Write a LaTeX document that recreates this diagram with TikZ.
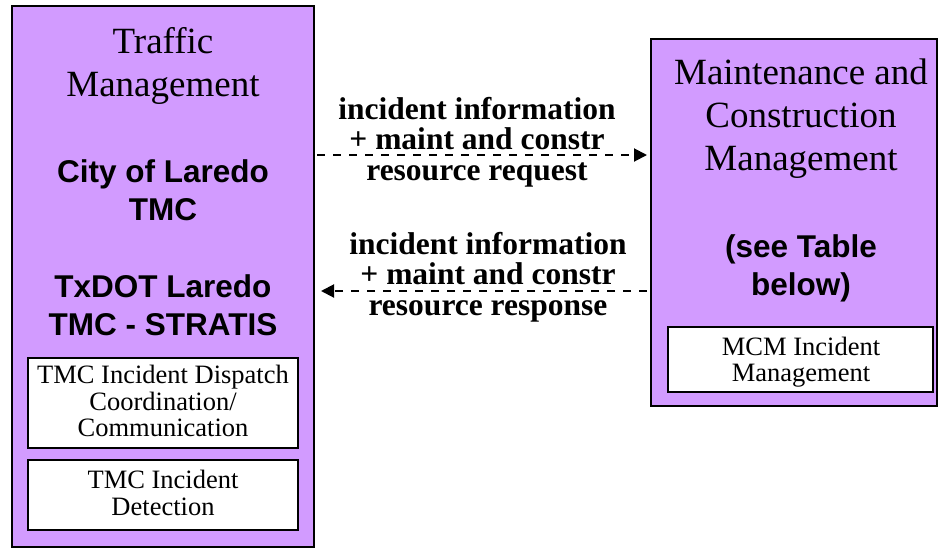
\documentclass[tikz,border=0pt]{standalone}
\usepackage{fontspec}
\setmainfont{Liberation Serif}
\newfontfamily\arialfont{Liberation Sans}
\usetikzlibrary{arrows.meta}
\definecolor{purp}{RGB}{210,155,255}
\begin{document}
\begin{tikzpicture}[x=1pt,y=-1pt,
 sysbox/.style={draw=black,line width=2pt,fill=purp,inner sep=0pt},
 subbox/.style={draw=black,line width=2pt,fill=white,inner sep=0pt},
 ttl/.style={font=\fontsize{37}{43}\selectfont,align=center,anchor=base,inner sep=0pt},
 org/.style={font=\arialfont\bfseries\fontsize{31.5}{38}\selectfont,align=center,anchor=base,inner sep=0pt},
 subtxt/.style={font=\fontsize{26.5}{26.5}\selectfont,align=center,anchor=base,inner sep=0pt},
 lbl/.style={font=\bfseries\fontsize{31.5}{30.5}\selectfont,align=center,anchor=base,inner sep=0pt},
 flow/.style={line width=2pt,dash pattern=on 8pt off 8pt,-{Triangle[length=13pt,width=13pt]}}]
\useasboundingbox (0,0) rectangle (938,550);
% left system
\node[sysbox,minimum width=302pt,minimum height=541pt] (tm) at (163,276.5) {};
\node[ttl] (tmt) at (163,96) {Traffic\\Management};
\node[org] (org1) at (163,220) {City of Laredo\\TMC};
\node[org] (org2) at (163,335) {TxDOT Laredo\\TMC - STRATIS};
\node[subbox,minimum width=270pt,minimum height=90pt] (disp) at (163,403) {};
\node[subtxt] (dispt) at (163,436.7) {TMC Incident Dispatch\\Coordination/\\Communication};
\node[subbox,minimum width=270pt,minimum height=70pt] (det) at (163,495) {};
\node[subtxt] (dett) at (163,515) {TMC Incident\\Detection};
% right system
\node[sysbox,minimum width=286pt,minimum height=367pt] (mc) at (794,222.5) {};
\node[ttl] (mct) at (801,170) {Maintenance and\\Construction\\Management};
\node[org] (org3) at (801,295) {(see Table\\below)};
\node[subbox,minimum width=265pt,minimum height=65pt] (mcm) at (800.5,359.5) {};
\node[subtxt] (mcmt) at (801,381.7) {MCM Incident\\Management};
% flows
\coordinate (a1) at (0,155);
\coordinate (a2) at (0,291);
\draw[flow,shorten <=2pt,shorten >=3pt] (tm.east |- a1) -- (mc.west |- a1);
\draw[flow,shorten <=3pt,shorten >=6pt] (mc.west |- a2) -- (tm.east |- a2);
\node[lbl] (l1) at (477,180) {incident information\\+ maint and constr\\resource request};
\node[lbl] (l2) at (488,315) {incident information\\+ maint and constr\\resource response};
\end{tikzpicture}
\end{document}
